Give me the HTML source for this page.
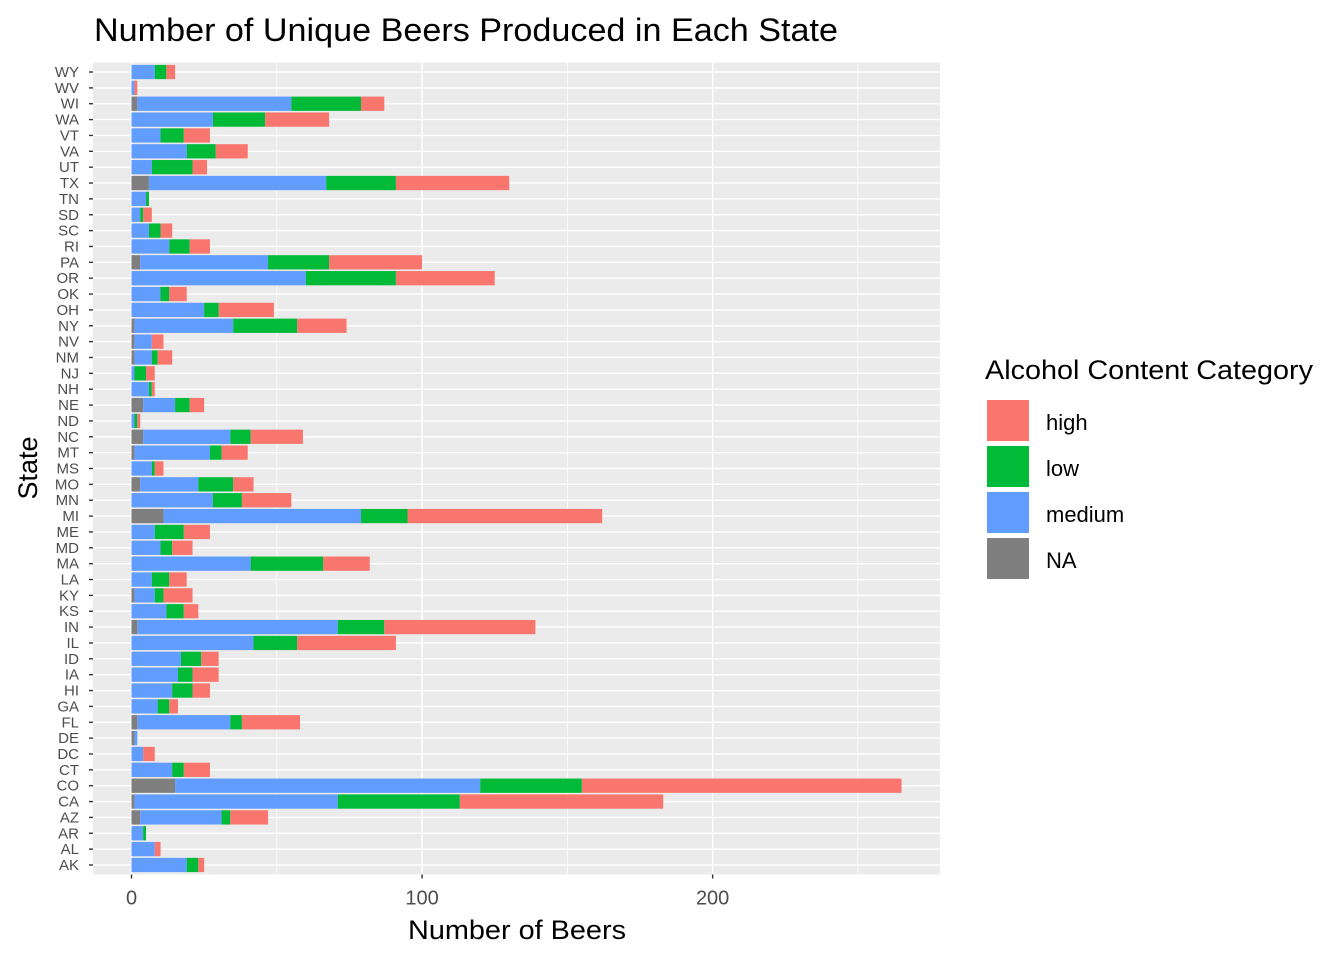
<!DOCTYPE html>
<html><head><meta charset="utf-8"><style>
body{margin:0;background:#fff;font-family:"Liberation Sans",Arial,sans-serif}
svg text{font-family:"Liberation Sans",Arial,sans-serif}
</style></head><body>
<svg id="chart" width="1344" height="960" xmlns="http://www.w3.org/2000/svg">
<rect width="1344" height="960" fill="#fff"/>
<text x="94" y="41" font-size="32" textLength="744" lengthAdjust="spacingAndGlyphs" fill="#000">Number of Unique Beers Produced in Each State</text>
<text x="517" y="939" font-size="27" textLength="218" lengthAdjust="spacingAndGlyphs" text-anchor="middle" fill="#000">Number of Beers</text>
<text x="37" y="468" font-size="27" text-anchor="middle" fill="#000" transform="rotate(-90 37 468)">State</text>
<g id="panel"></g>
<g>
<text x="985" y="379" font-size="27" textLength="328" lengthAdjust="spacingAndGlyphs" fill="#000">Alcohol Content Category</text>
<g><rect x="987" y="400" width="42" height="41" fill="#F8766D"/><text x="1046" y="430" font-size="22">high</text></g>
<g><rect x="987" y="446" width="42" height="41" fill="#00BA38"/><text x="1046" y="476" font-size="22">low</text></g>
<g><rect x="987" y="492" width="42" height="41" fill="#619CFF"/><text x="1046" y="522" font-size="22">medium</text></g>
<g><rect x="987" y="538" width="42" height="41" fill="#7F7F7F"/><text x="1046" y="568" font-size="22">NA</text></g>
</g>
</svg>
<script>
const states = ["AK","AL","AR","AZ","CA","CO","CT","DC","DE","FL","GA","HI","IA","ID","IL","IN","KS","KY","LA","MA","MD","ME","MI","MN","MO","MS","MT","NC","ND","NE","NH","NJ","NM","NV","NY","OH","OK","OR","PA","RI","SC","SD","TN","TX","UT","VA","VT","WA","WI","WV","WY"];
const naVals   = [0,0,0,3,1,15,0,0,1,2,0,0,0,0,0,2,0,1,0,0,0,0,11,0,3,0,1,4,0,4,0,0,1,1,1,0,0,0,3,0,0,0,0,6,0,0,0,0,2,0,0];
const mediumVals=[19,8,4,28,70,105,14,4,1,32,9,14,16,17,42,69,12,7,7,41,10,8,68,28,20,7,26,30,1,11,6,1,6,6,34,25,10,60,44,13,6,3,5,61,7,19,10,28,53,1,8];
const lowVals  = [4,0,1,3,42,35,4,0,0,4,4,7,5,7,15,16,6,3,6,25,4,10,16,10,12,1,4,7,1,5,1,4,2,0,22,5,3,31,21,7,4,1,1,24,14,10,8,18,24,0,4];
const highVals = [2,2,0,13,70,110,9,4,0,20,3,6,9,6,34,52,5,10,6,16,7,9,67,17,7,3,9,18,1,5,1,3,5,4,17,19,6,34,32,7,4,3,0,39,5,11,9,22,8,1,3];
const xTicks = [0,100,200];
const xMinor = [50,150,250];

const NS="http://www.w3.org/2000/svg";
const panel=document.getElementById('panel');
const svg=document.getElementById('chart');
const pL=93,pR=940,pT=62.5,pB=874.5;
const totals=states.map((s,i)=>naVals[i]+mediumVals[i]+lowVals[i]+highVals[i]);
const maxT=Math.max(...totals);
const d0=-0.05*maxT,d1=maxT*1.05;
const xs=v=>pL+(v-d0)/(d1-d0)*(pR-pL);
const n=states.length;
const band=(pB-pT)/(n+0.2);
const ys=i=>pB-0.6*band-i*band;
function mk(tag,attrs,parent){const e=document.createElementNS(NS,tag);for(const k in attrs)e.setAttribute(k,attrs[k]);(parent||panel).appendChild(e);return e;}
let bg=mk('rect',{x:pL,y:pT,width:pR-pL,height:pB-pT,fill:'#EBEBEB'});


xMinor.forEach(v=>{let l=mk('line',{x1:xs(v),x2:xs(v),y1:pT,y2:pB,stroke:'#fff','stroke-width':0.7});

});
xTicks.forEach(v=>{let l=mk('line',{x1:xs(v),x2:xs(v),y1:pT,y2:pB,stroke:'#fff','stroke-width':1.4});


let t=mk('line',{x1:xs(v),x2:xs(v),y1:pB,y2:pB+4,stroke:'#333','stroke-width':1.4},svg);


let tx=mk('text',{x:xs(v),y:pB+30,'font-size':20,'text-anchor':'middle',fill:'#4D4D4D'},svg);tx.textContent=v;

});
states.forEach((s,i)=>{const y=ys(i);
let g=mk('line',{x1:pL,x2:pR,y1:y,y2:y,stroke:'#fff','stroke-width':1.4});


let t=mk('line',{x1:pL-4,x2:pL,y1:y,y2:y,stroke:'#333','stroke-width':1.4},svg);


let tx=mk('text',{x:pL-14,y:y+5,'font-size':15,'text-anchor':'end',fill:'#4D4D4D'},svg);tx.textContent=s;

});
const series=[[naVals,'#7F7F7F','na'],[mediumVals,'#619CFF','medium'],[lowVals,'#00BA38','low'],[highVals,'#F8766D','high']];
const h=band*0.9;
states.forEach((s,i)=>{let c=0;series.forEach(([arr,col,nm])=>{const v=arr[i];if(v>0){
let r=mk('rect',{x:xs(c),y:ys(i)-h/2,width:xs(c+v)-xs(c),height:h,fill:col});

}c+=v;});});
</script>
</body></html>
